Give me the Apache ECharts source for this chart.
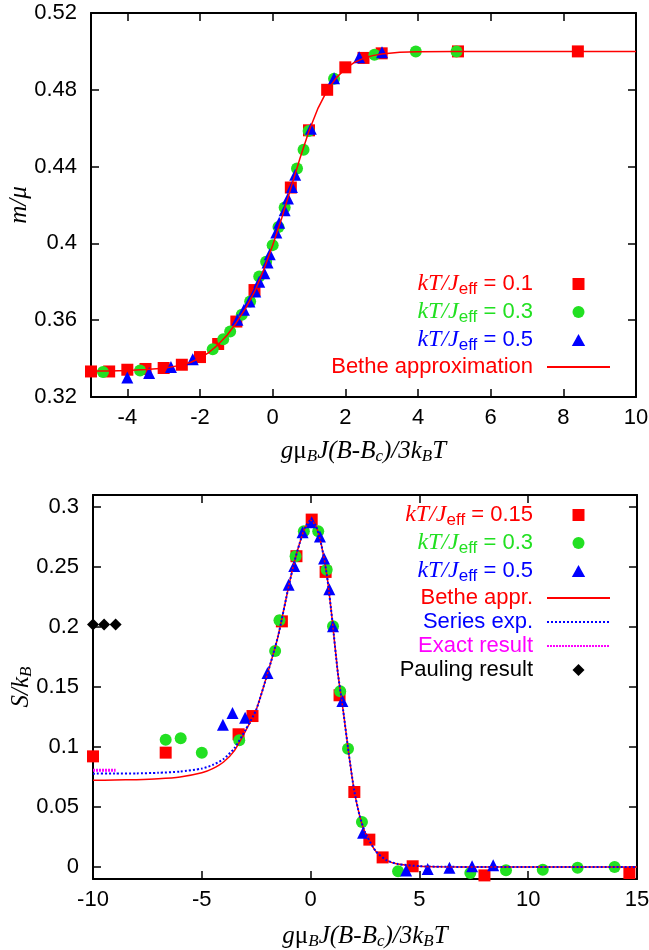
<!DOCTYPE html>
<html>
<head>
<meta charset="utf-8">
<script src="https://cdn.jsdelivr.net/npm/echarts@6/dist/echarts.min.js"></script>
<style>html,body{margin:0;padding:0;background:#fff}#c{width:649px;height:950px}</style>
</head>
<body>
<div id="c"></div>
<script>
// ---------- Top panel: m/mu vs scaled field ----------
var topX01 = [-5, -4.5, -4, -3.5, -3, -2.5, -2, -1.5, -1, -0.5, 0.5, 1, 1.5, 2, 2.5, 3, 5.1, 8.4];
var topY01 = [0.3333, 0.3333, 0.3342, 0.3346, 0.3351, 0.3368, 0.3408, 0.3476, 0.3593, 0.3757, 0.4291, 0.4589, 0.4800, 0.4917, 0.4966, 0.4990, 0.5, 0.5];
var topX03 = [-4.67, -3.65, -1.65, -1.36, -1.17, -0.85, -0.62, -0.37, -0.18, 0.0, 0.16, 0.33, 0.67, 0.85, 0.99, 1.69, 2.80, 3.94, 5.06];
var topY03 = [0.333, 0.3338, 0.3449, 0.3501, 0.3541, 0.3628, 0.3697, 0.3827, 0.3905, 0.3991, 0.4086, 0.4187, 0.4390, 0.4488, 0.4585, 0.4857, 0.4982, 0.4999, 0.5];
var topX05 = [-4.0, -3.4, -2.8, -2.2, -0.97, -0.79, -0.64, -0.48, -0.37, -0.23, -0.14, -0.08, 0.10, 0.18, 0.33, 0.42, 0.53, 0.62, 1.05, 1.69, 2.38, 3.01];
var topY05 = [0.3302, 0.3325, 0.3356, 0.3397, 0.3602, 0.3654, 0.3697, 0.3749, 0.3800, 0.3844, 0.3901, 0.3944, 0.4057, 0.4107, 0.4173, 0.4234, 0.4294, 0.4358, 0.4597, 0.4860, 0.4969, 0.4995];
var topBetheX = [-5, -4.5, -4, -3.5, -3, -2.5, -2.25, -2, -1.75, -1.5, -1.25, -1, -0.75, -0.5, -0.25, 0, 0.25, 0.5, 0.75, 1, 1.25, 1.5, 1.75, 2, 2.25, 2.5, 2.75, 3, 3.5, 4, 5, 6, 8, 10];
var topBetheY = [0.3335, 0.3336, 0.3338, 0.3343, 0.3350, 0.3366, 0.3381, 0.3403, 0.3433, 0.3473, 0.3523, 0.3587, 0.3660, 0.3747, 0.3860, 0.3990, 0.4132, 0.4287, 0.4442, 0.4585, 0.4705, 0.4797, 0.4862, 0.4910, 0.4943, 0.4964, 0.4978, 0.4987, 0.4995, 0.4998, 0.5, 0.5, 0.5, 0.5];
var topXTicks = [-4, -2, 0, 2, 4, 6, 8, 10];

// ---------- Bottom panel: S/kB vs scaled field ----------
var botX015 = [-10, -6.66, -3.31, -2.67, -1.32, -0.65, 0.05, 0.69, 1.33, 2.01, 2.70, 3.31, 4.69, 7.99, 14.65];
var botY015 = [0.0922, 0.0953, 0.1106, 0.1258, 0.2047, 0.259, 0.2895, 0.2459, 0.1431, 0.0625, 0.0228, 0.0080, 0.0006, -0.007, -0.005];
var botX03 = [-6.66, -5.97, -5.0, -3.28, -1.63, -1.43, -0.69, -0.31, 0.35, 0.74, 1.03, 1.36, 1.72, 2.36, 4.02, 7.34, 8.98, 10.67, 12.27, 13.97];
var botY03 = [0.106, 0.1072, 0.0953, 0.1056, 0.18, 0.2056, 0.259, 0.2797, 0.2797, 0.2478, 0.2006, 0.1464, 0.0986, 0.0375, -0.0036, -0.005, -0.0028, -0.0022, -0.0006, 0.0];
var botX05 = [-4.03, -3.59, -3.01, -1.98, -1.01, -0.75, -0.37, 0.05, 0.43, 0.62, 0.86, 1.03, 1.46, 2.41, 4.39, 5.38, 6.38, 7.42, 8.39];
var botY05 = [0.1186, 0.1283, 0.1244, 0.1617, 0.2353, 0.2508, 0.279, 0.2873, 0.2755, 0.257, 0.2314, 0.2006, 0.1383, 0.0286, -0.003, -0.0017, -0.0006, 0.0006, 0.0014];
var botBetheX = [-10, -9, -8, -7, -6, -5, -4.5, -4, -3.5, -3, -2.5, -2, -1.5, -1, -0.75, -0.5, -0.25, 0, 0.25, 0.5, 0.75, 1, 1.25, 1.5, 1.75, 2, 2.25, 2.5, 3, 3.5, 4, 5, 6, 8, 15];
var botBetheY = [0.0722, 0.0725, 0.0728, 0.0735, 0.075, 0.0785, 0.082, 0.0875, 0.097, 0.113, 0.131, 0.160, 0.192, 0.2345, 0.254, 0.270, 0.283, 0.289, 0.284, 0.268, 0.243, 0.205, 0.162, 0.130, 0.095, 0.064, 0.043, 0.029, 0.013, 0.0055, 0.0025, 0.0007, 0.0002, 0, 0];
var botSeriesX = [-10, -9, -8, -7, -6, -5, -4.5, -4, -3.5, -3, -2.5, -2, -1.5, -1, -0.75, -0.5, -0.25, 0, 0.25, 0.5, 0.75, 1, 1.25, 1.5, 1.75, 2, 2.25, 2.5, 3, 3.5, 4, 5, 6, 8, 15];
var botSeriesY = [0.0778, 0.0779, 0.078, 0.0785, 0.0795, 0.082, 0.085, 0.090, 0.099, 0.114, 0.131, 0.160, 0.192, 0.2345, 0.254, 0.270, 0.283, 0.289, 0.284, 0.268, 0.243, 0.205, 0.162, 0.130, 0.095, 0.064, 0.043, 0.029, 0.013, 0.0055, 0.0025, 0.0007, 0.0002, 0, 0];
var botExactX = [-10, -8.96];
var botExactY = [0.0806, 0.0806];
var botPaulingX = [-10, -9.49, -8.96];
var botPaulingY = [0.202, 0.202, 0.202];
var botYTicks = [0, 0.05, 0.1, 0.15, 0.2, 0.25, 0.3];

var RED = '#ff0000', GREEN = '#22e022', BLUE = '#0000ff', MAGENTA = '#ff00ff', BLACK = '#000000';
var SANS = 'Liberation Sans', SERIF = 'Liberation Serif';
var ICON_SQ = 'path://M0,0L10,0L10,10L0,10Z';
var ICON_TRI = 'path://M5,0L10,9L0,9Z';
var ICON_DIA = 'path://M5,0L10,5L5,10L0,5Z';

function pairs(xs, ys) { return xs.map(function (x, i) { return [x, ys[i]]; }); }

var labels = {
  top01: '{it|kT/J}{sub|eff}{n| = 0.1}',
  top03: '{it|kT/J}{sub|eff}{n| = 0.3}',
  top05: '{it|kT/J}{sub|eff}{n| = 0.5}',
  topBethe: '{n|Bethe approximation}',
  bot015: '{it|kT/J}{sub|eff}{n| = 0.15}',
  bot03: '{it|kT/J}{sub|eff}{n| = 0.3}',
  bot05: '{it|kT/J}{sub|eff}{n| = 0.5}',
  botBethe: '{n|Bethe appr.}',
  botSeries: '{n|Series exp.}',
  botExact: '{n|Exact result}',
  botPauling: '{n|Pauling result}'
};
var legendRich = {
  it: { fontFamily: SERIF, fontStyle: 'italic', fontSize: 24, lineHeight: 28, verticalAlign: 'middle' },
  sub: { fontFamily: SANS, fontSize: 17, lineHeight: 16, verticalAlign: 'bottom' },
  n: { fontFamily: SANS, fontSize: 22, lineHeight: 28, verticalAlign: 'middle', padding: [0, 9, 0, 0] }
};
function legendBase(top, data) {
  return {
    orient: 'vertical', align: 'right', right: 38, top: top, padding: 0,
    itemWidth: 63, itemHeight: 12, itemGap: 2, selectedMode: false, symbolKeepAspect: true,
    formatter: function (name) { return labels[name]; },
    textStyle: { fontFamily: SANS, fontSize: 22, rich: legendRich },
    data: data
  };
}
function lineItem(name, color) {
  return { name: name, textStyle: { color: color }, itemStyle: { opacity: 0 } };
}

var nameRich = {
  i: { fontFamily: SERIF, fontStyle: 'italic', fontSize: 25, lineHeight: 28, verticalAlign: 'middle', color: '#000' },
  u: { fontFamily: SERIF, fontSize: 25, lineHeight: 28, verticalAlign: 'middle', color: '#000' },
  s: { fontFamily: SERIF, fontStyle: 'italic', fontSize: 17, lineHeight: 16, verticalAlign: 'bottom', color: '#000' }
};
var xName = '{i|g}{u|μ}{s|B}{i|J(B-B}{s|c}{i|)/3k}{s|B}{i|T}';

function axisCommon() {
  return {
    type: 'value',
    nameMoveOverlap: false,
    axisLine: { show: true, onZero: false, lineStyle: { color: '#000', width: 2 } },
    axisTick: { show: true, inside: true, length: 8, lineStyle: { color: '#000', width: 1.5 } },
    splitLine: { show: false },
    axisLabel: { color: '#000', fontFamily: SANS, fontSize: 22 },
    nameTextStyle: { rich: nameRich }
  };
}
function mk(extra) { var a = axisCommon(); for (var k in extra) { if (typeof extra[k] === 'object' && a[k] && !Array.isArray(extra[k])) { for (var j in extra[k]) a[k][j] = extra[k][j]; } else a[k] = extra[k]; } return a; }

var xAxes = [
  mk({ gridIndex: 0, position: 'bottom', min: -5, max: 10,
       axisTick: { customValues: topXTicks }, axisLabel: { customValues: topXTicks, margin: 10 },
       name: xName, nameLocation: 'middle', nameGap: 40 }),
  mk({ gridIndex: 0, position: 'top', min: -5, max: 10,
       axisTick: { customValues: topXTicks }, axisLabel: { show: false } }),
  mk({ gridIndex: 1, position: 'bottom', min: -10, max: 15, interval: 5,
       axisLabel: { margin: 10 }, name: xName, nameLocation: 'middle', nameGap: 43 }),
  mk({ gridIndex: 1, position: 'top', min: -10, max: 15, interval: 5, axisLabel: { show: false } })
];
var yAxes = [
  mk({ gridIndex: 0, position: 'left', min: 0.32, max: 0.52, interval: 0.04,
       axisLabel: { margin: 14 }, name: '{i|m/μ}', nameLocation: 'middle', nameGap: 58 }),
  mk({ gridIndex: 0, position: 'right', min: 0.32, max: 0.52, interval: 0.04, axisLabel: { show: false } }),
  mk({ gridIndex: 1, position: 'left', min: -0.01, max: 0.31,
       axisTick: { customValues: botYTicks }, axisLabel: { customValues: botYTicks, margin: 14 },
       name: '{i|S/k}{s|B}', nameLocation: 'middle', nameGap: 58 }),
  mk({ gridIndex: 1, position: 'right', min: -0.01, max: 0.31,
       axisTick: { customValues: botYTicks }, axisLabel: { show: false } })
];

function scatter(name, xi, yi, xs, ys, symbol, color, size, z) {
  return { name: name, type: 'scatter', xAxisIndex: xi, yAxisIndex: yi, data: pairs(xs, ys),
    symbol: symbol, symbolSize: size, itemStyle: { color: color, opacity: 1 }, z: z, animation: false };
}
function line(name, xi, yi, xs, ys, color, width, type, z, smooth) {
  return { name: name, type: 'line', xAxisIndex: xi, yAxisIndex: yi, data: pairs(xs, ys),
    symbol: 'none', smooth: smooth, lineStyle: { color: color, width: width, type: type },
    itemStyle: { color: color }, z: z, animation: false };
}

var option = {
  backgroundColor: '#fff',
  animation: false,
  grid: [
    { left: 91, right: 13, top: 13, bottom: 553, outerBoundsMode: 'none', containLabel: false },
    { left: 93, right: 12, top: 495, bottom: 71, outerBoundsMode: 'none', containLabel: false }
  ],
  xAxis: xAxes,
  yAxis: yAxes,
  legend: [
    legendBase(272, [
      { name: 'top01', icon: ICON_SQ, textStyle: { color: RED } },
      { name: 'top03', icon: 'circle', textStyle: { color: GREEN } },
      { name: 'top05', icon: ICON_TRI, textStyle: { color: BLUE } },
      lineItem('topBethe', RED)
    ]),
    legendBase(503, [
      { name: 'bot015', icon: ICON_SQ, textStyle: { color: RED } },
      { name: 'bot03', icon: 'circle', textStyle: { color: GREEN } },
      { name: 'bot05', icon: ICON_TRI, textStyle: { color: BLUE } },
      lineItem('botBethe', RED),
      lineItem('botSeries', BLUE),
      lineItem('botExact', MAGENTA),
      { name: 'botPauling', icon: ICON_DIA, textStyle: { color: BLACK } }
    ])
  ],
  series: [
    scatter('top01', 0, 0, topX01, topY01, 'rect', RED, 12, 2),
    scatter('top03', 0, 0, topX03, topY03, 'circle', GREEN, 12, 3),
    scatter('top05', 0, 0, topX05, topY05, 'triangle', BLUE, 12, 4),
    line('topBethe', 0, 0, topBetheX, topBetheY, RED, 1.5, 'solid', 5, false),
    scatter('bot015', 2, 2, botX015, botY015, 'rect', RED, 12, 2),
    scatter('bot03', 2, 2, botX03, botY03, 'circle', GREEN, 12, 3),
    scatter('bot05', 2, 2, botX05, botY05, 'triangle', BLUE, 12, 4),
    line('botBethe', 2, 2, botBetheX, botBetheY, RED, 1.5, 'solid', 5, 0.2),
    line('botSeries', 2, 2, botSeriesX, botSeriesY, BLUE, 2, [2, 2], 6, 0.2),
    line('botExact', 2, 2, botExactX, botExactY, MAGENTA, 3, [2, 1], 6, false),
    scatter('botPauling', 2, 2, botPaulingX, botPaulingY, 'diamond', BLACK, 12, 4)
  ]
};
var chart = echarts.init(document.getElementById('c'), null, { renderer: 'canvas' });
chart.setOption(option);
</script>
</body>
</html>
